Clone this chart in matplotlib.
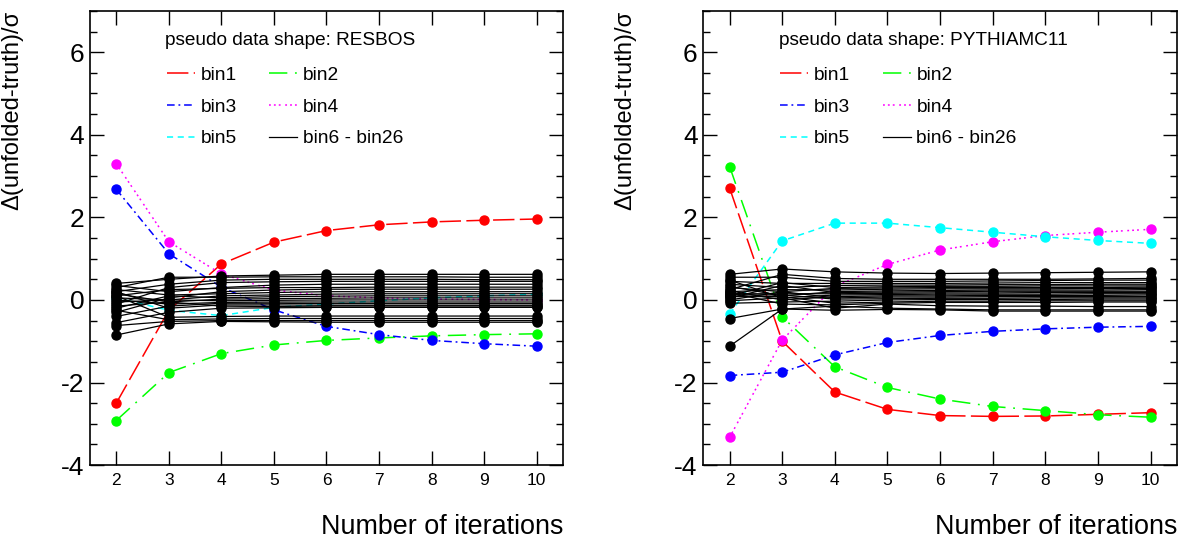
import matplotlib
matplotlib.use('Agg')
import matplotlib.pyplot as plt
from matplotlib.ticker import MultipleLocator

plt.rcParams['font.family'] = ['Liberation Sans', 'DejaVu Sans']
plt.rcParams['axes.unicode_minus'] = False

iterations = [2, 3, 4, 5, 6, 7, 8, 9, 10]
shapes = ['RESBOS', 'PYTHIAMC11']
bin_labels = ['bin1', 'bin2', 'bin3', 'bin4', 'bin5']
other_label = 'bin6 - bin26'

# RESBOS pseudo data
resbos_bin1 = [-2.50, -0.25, 0.87, 1.40, 1.68, 1.82, 1.89, 1.93, 1.96]
resbos_bin2 = [-2.92, -1.76, -1.30, -1.09, -0.98, -0.92, -0.87, -0.84, -0.82]
resbos_bin3 = [2.68, 1.12, 0.31, -0.24, -0.64, -0.84, -0.98, -1.06, -1.12]
resbos_bin4 = [3.30, 1.41, 0.63, 0.24, 0.10, 0.05, 0.02, 0.01, 0.00]
resbos_bin5 = [0.05, -0.25, -0.38, -0.18, -0.10, -0.02, 0.05, 0.10, 0.14]
resbos_others = [
    [0.40, 0.50, 0.58, 0.60, 0.62, 0.62, 0.62, 0.62, 0.62],
    [0.30, 0.55, 0.55, 0.56, 0.56, 0.56, 0.56, 0.55, 0.55],
    [0.20, 0.38, 0.48, 0.50, 0.50, 0.50, 0.50, 0.49, 0.49],
    [-0.10, 0.30, 0.42, 0.44, 0.45, 0.45, 0.45, 0.45, 0.45],
    [0.35, 0.20, 0.30, 0.36, 0.38, 0.38, 0.38, 0.38, 0.38],
    [0.10, 0.25, 0.28, 0.30, 0.30, 0.31, 0.31, 0.31, 0.31],
    [-0.30, 0.05, 0.20, 0.24, 0.26, 0.26, 0.26, 0.26, 0.26],
    [0.25, 0.12, 0.15, 0.18, 0.20, 0.20, 0.20, 0.20, 0.20],
    [0.05, 0.00, 0.10, 0.12, 0.14, 0.15, 0.15, 0.15, 0.15],
    [-0.20, 0.10, 0.05, 0.08, 0.09, 0.10, 0.10, 0.10, 0.10],
    [0.15, -0.05, 0.02, 0.03, 0.04, 0.05, 0.05, 0.05, 0.05],
    [-0.05, 0.00, -0.02, -0.01, 0.00, 0.00, 0.00, 0.00, 0.00],
    [0.00, -0.10, -0.06, -0.05, -0.05, -0.05, -0.05, -0.05, -0.05],
    [-0.40, -0.15, -0.08, -0.08, -0.09, -0.09, -0.09, -0.09, -0.09],
    [0.20, -0.20, -0.12, -0.12, -0.13, -0.13, -0.13, -0.13, -0.13],
    [-0.15, -0.05, -0.15, -0.16, -0.17, -0.17, -0.17, -0.17, -0.17],
    [-0.55, -0.30, -0.20, -0.19, -0.18, -0.18, -0.18, -0.18, -0.18],
    [0.10, -0.42, -0.40, -0.39, -0.39, -0.39, -0.39, -0.39, -0.39],
    [-0.25, -0.48, -0.46, -0.45, -0.45, -0.45, -0.45, -0.45, -0.45],
    [-0.62, -0.52, -0.50, -0.50, -0.50, -0.50, -0.50, -0.50, -0.50],
    [-0.85, -0.58, -0.52, -0.53, -0.54, -0.54, -0.54, -0.54, -0.54],
]

# PYTHIAMC11 pseudo data
pythia_bin1 = [2.71, -1.00, -2.23, -2.65, -2.80, -2.82, -2.81, -2.77, -2.73]
pythia_bin2 = [3.23, -0.41, -1.62, -2.12, -2.40, -2.58, -2.68, -2.78, -2.84]
pythia_bin3 = [-1.83, -1.75, -1.33, -1.03, -0.86, -0.76, -0.70, -0.66, -0.64]
pythia_bin4 = [-3.33, -0.97, 0.33, 0.86, 1.21, 1.41, 1.56, 1.64, 1.71]
pythia_bin5 = [-0.34, 1.43, 1.86, 1.86, 1.75, 1.64, 1.53, 1.44, 1.37]
pythia_others = [
    [0.62, 0.75, 0.68, 0.65, 0.64, 0.65, 0.66, 0.67, 0.68],
    [0.55, 0.55, 0.45, 0.45, 0.45, 0.46, 0.47, 0.48, 0.48],
    [0.25, 0.62, 0.52, 0.50, 0.50, 0.50, 0.50, 0.51, 0.52],
    [0.45, 0.40, 0.40, 0.40, 0.40, 0.41, 0.42, 0.42, 0.42],
    [0.38, 0.30, 0.35, 0.36, 0.36, 0.37, 0.37, 0.38, 0.38],
    [0.10, 0.42, 0.30, 0.32, 0.33, 0.33, 0.34, 0.34, 0.34],
    [0.30, 0.20, 0.28, 0.29, 0.30, 0.30, 0.30, 0.30, 0.31],
    [0.20, 0.25, 0.24, 0.26, 0.27, 0.27, 0.27, 0.28, 0.28],
    [0.33, 0.10, 0.20, 0.22, 0.23, 0.24, 0.24, 0.24, 0.25],
    [0.05, 0.35, 0.18, 0.19, 0.20, 0.21, 0.21, 0.21, 0.21],
    [0.15, 0.15, 0.15, 0.16, 0.17, 0.17, 0.18, 0.18, 0.18],
    [-0.02, 0.05, 0.12, 0.13, 0.14, 0.14, 0.14, 0.15, 0.15],
    [0.22, 0.00, 0.08, 0.10, 0.10, 0.11, 0.11, 0.11, 0.12],
    [0.00, 0.20, 0.05, 0.07, 0.07, 0.08, 0.08, 0.08, 0.08],
    [0.12, 0.12, 0.02, 0.03, 0.04, 0.04, 0.05, 0.05, 0.05],
    [-0.08, -0.05, -0.03, 0.00, 0.01, 0.01, 0.01, 0.02, 0.02],
    [0.08, 0.08, -0.08, -0.05, -0.03, -0.03, -0.02, -0.02, -0.02],
    [0.18, -0.10, -0.12, -0.08, -0.06, -0.06, -0.06, -0.05, -0.05],
    [-0.45, -0.22, -0.15, -0.20, -0.22, -0.24, -0.24, -0.24, -0.24],
    [-1.12, -0.22, -0.25, -0.23, -0.24, -0.27, -0.27, -0.27, -0.27],
    [0.48, 0.05, -0.20, -0.10, -0.14, -0.15, -0.15, -0.16, -0.16],
]

bin_colors = ['#ff0000', '#00ff00', '#0000ff', '#ff00ff', '#00ffff']
bin_dashes = [(14, 3.5), (12, 5, 1.2, 5), (5, 2.5, 1.2, 2.5), (1.2, 2, 1.2, 2, 1.2, 3), (4, 3)]

panels = [
    (shapes[0], [resbos_bin1, resbos_bin2, resbos_bin3, resbos_bin4, resbos_bin5], resbos_others),
    (shapes[1], [pythia_bin1, pythia_bin2, pythia_bin3, pythia_bin4, pythia_bin5], pythia_others),
]

fig = plt.figure(figsize=(11.84, 5.44), dpi=100)
ax_boxes = [[0.076, 0.145, 0.3995, 0.835], [0.594, 0.145, 0.400, 0.835]]

for box, (shape, bins, others) in zip(ax_boxes, panels):
    ax = fig.add_axes(box)
    handles = []
    for vals, col, ds, lab in zip(bins, bin_colors, bin_dashes, bin_labels):
        ln, = ax.plot(iterations, vals, color=col, lw=1.1, dashes=ds,
                      marker='o', ms=6.5, mec=col, mfc=col, zorder=2, label=lab)
        handles.append(ln)
    for k, vals in enumerate(others):
        ln, = ax.plot(iterations, vals, color='black', lw=0.9,
                      marker='o', ms=6.5, zorder=3)
        if k == 0:
            handles.append(ln)

    ax.set_xlim(1.5, 10.5)
    ax.set_ylim(-4, 7)
    ax.set_xticks(iterations)
    ax.yaxis.set_major_locator(MultipleLocator(2))
    ax.yaxis.set_minor_locator(MultipleLocator(0.5))
    ax.tick_params(axis='both', which='both', direction='in', top=True, right=True, width=1.0)
    ax.tick_params(axis='y', which='major', length=10, labelsize=19, pad=4)
    ax.tick_params(axis='y', which='minor', length=5)
    ax.tick_params(axis='x', which='major', length=10, labelsize=12.5, pad=6)
    for sp in ax.spines.values():
        sp.set_linewidth(1.2)

    ax.set_ylabel('\u0394(unfolded-truth)/\u03c3', fontsize=17, loc='top')
    ax.yaxis.set_label_coords(-0.142, 1.0)
    ax.set_xlabel('Number of iterations', fontsize=19.4, loc='right')
    ax.xaxis.set_label_coords(1.0, -0.108)

    # legend: title line plus two columns
    ax.text(0.159, 0.935, 'pseudo data shape: ' + shape, transform=ax.transAxes,
            fontsize=13.7, va='center', ha='left')
    leg_handles = [handles[0], handles[2], handles[4], handles[1], handles[3], handles[5]]
    leg_labels = [bin_labels[0], bin_labels[2], bin_labels[4], bin_labels[1], bin_labels[3], other_label]
    leg = ax.legend(leg_handles, leg_labels, loc='upper left',
                    bbox_to_anchor=(0.163, 0.878), ncol=2, frameon=False, fontsize=13.8,
                    borderpad=0, borderaxespad=0, handlelength=1.45, handletextpad=0.3,
                    columnspacing=1.7, labelspacing=0.75)
    for lh in leg.get_lines():
        lh.set_marker('')

fig.savefig('out.png', dpi=100)
